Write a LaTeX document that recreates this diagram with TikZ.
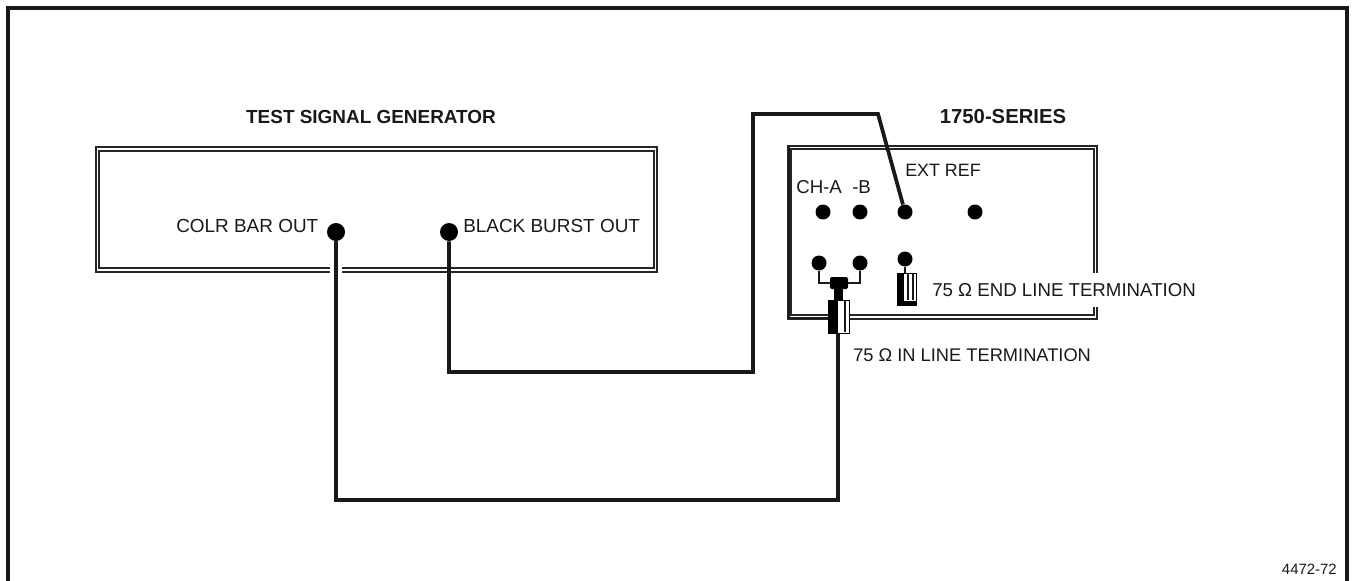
\documentclass[tikz,border=0pt]{standalone}
\usepackage{fontspec}
\setmainfont{Liberation Sans}
\tikzset{
  x=0.75pt,y=-0.75pt,
  jack/.style={circle,fill=black,draw=none,inner sep=0pt,minimum size=#1*0.75pt},
  jack/.default=16,
  cable/.style={line width=2.8pt,black!90,line join=miter},
  wire/.style={line width=0.9pt,black!90},
  panel/.style={line width=0.9pt,black!85},
  lbl/.style={inner sep=0pt,font=\fontsize{14.2}{16}\selectfont,anchor=west,text=black!90},
  title/.style={inner sep=0pt,font=\bfseries\fontsize{14.2}{16}\selectfont,text=black!90},
  term/.style={draw=black,line width=0.6pt,fill=white,inner sep=0pt,anchor=north west},
}
\begin{document}
\begin{tikzpicture}
\useasboundingbox (0,0) rectangle (1352,581);
\fill[white] (0,0) rectangle (1352,581);
% outer border
\draw[line width=2.4pt,black!90] (8,581) -- (8,8) -- (1347,8) -- (1347,581);
% generator panel
\draw[panel] (330,272) -| (96,147) -- (657,147) -- (657,272) -- (342,272);
\draw[panel] (330,268) -| (99,151) -- (654,151) -- (654,268) -- (342,268);
\draw[line width=1.4pt,black!85] (96,272) -- (96,147) -- (120,147);
% analyzer panel
\draw[panel] (828,319) -- (788,319) -- (788,146) -- (1097,146) -- (1097,273);
\draw[panel] (1097,307) -- (1097,319) -- (849,319);
\draw[panel] (828,315) -- (791,315) -- (791,149) -- (1094,149) -- (1094,273);
\draw[panel] (1094,307) -- (1094,315) -- (849,315);
\draw[line width=1.6pt,black!90] (829,318) -- (789,318) -- (789,146);
% titles
\node[title] (tsg) at (371,117) {TEST SIGNAL GENERATOR};
\node[title,font=\bfseries\fontsize{15.2}{17}\selectfont] (ser) at (1003,117) {1750-SERIES};
% generator jacks
\node[jack=18] (colr) at (336,232) {};
\node[jack=18] (burst) at (449,232) {};
\node[lbl] (lcolr) at (176,226) {COLR BAR OUT};
\node[lbl] (lburst) at (463,226) {BLACK BURST OUT};
% analyzer jacks
\node[jack=15] (cha) at (823,212) {};
\node[jack=15] (chb) at (860,212) {};
\node[jack=15] (ext) at (905,212) {};
\node[jack=15] (ext2) at (975,212) {};
\node[jack=15] (loa) at (819,263) {};
\node[jack=15] (lob) at (860,263) {};
\node[jack=15] (loc) at (905,259) {};
\node[lbl,font=\fontsize{13.4}{16}\selectfont] (lext) at (905,170) {EXT REF};
\node[lbl,font=\fontsize{14}{16}\selectfont] (lcha) at (796,187) {CH-A};
\node[lbl,font=\fontsize{14}{16}\selectfont] (lchb) at (852,187) {-B};
% coordinates for cable bends
\coordinate (c1) at (336,500);
\coordinate (c2) at (838,500);
\coordinate (b1) at (449,372);
\coordinate (b2) at (753,372);
\coordinate (b3) at (753,114);
\coordinate (b4) at (878,114);
% cables
\draw[cable] (colr) -- (c1) -- (c2) -- (838,330);
\draw[cable] (burst) -- (b1) -- (b2) -- (b3) -- (b4) -- (ext);
% end termination
\node[term,minimum width=14.6pt,minimum height=24pt] (endt) at (897,273) {};
\fill[black] (897,273) rectangle (904,305);
\fill[black] (897,301) rectangle (917,305);
\draw[wire] (908,274) -- (908,300);
\draw[wire] (913,274) -- (913,300);
\draw[wire] (loc) -- (905,273);
% in-line termination
\node[term,minimum width=15.5pt,minimum height=25pt] (inl) at (828,300) {};
\fill[black] (828,300) rectangle (838,333);
\draw[wire] (845,301) -- (845,332);
% T connector
\fill[black,rounded corners=1.5pt] (830,277) rectangle (848,289);
\fill[black] (834,289) rectangle (843,301);
\coordinate (ta) at (830,283);
\coordinate (tb) at (848,283);
\draw[wire] (loa) |- (ta);
\draw[wire] (lob) |- (tb);
% labels
\node[lbl,font=\fontsize{14}{16}\selectfont] (lend) at (932,290) {75 Ω END LINE TERMINATION};
\node[lbl,font=\fontsize{13.7}{16}\selectfont] (lin) at (853,355) {75 Ω IN LINE TERMINATION};
\node[inner sep=0pt,font=\fontsize{11.2}{12}\selectfont,anchor=east,text=black!90] (num) at (1337,569) {4472-72};
\end{tikzpicture}
\end{document}
